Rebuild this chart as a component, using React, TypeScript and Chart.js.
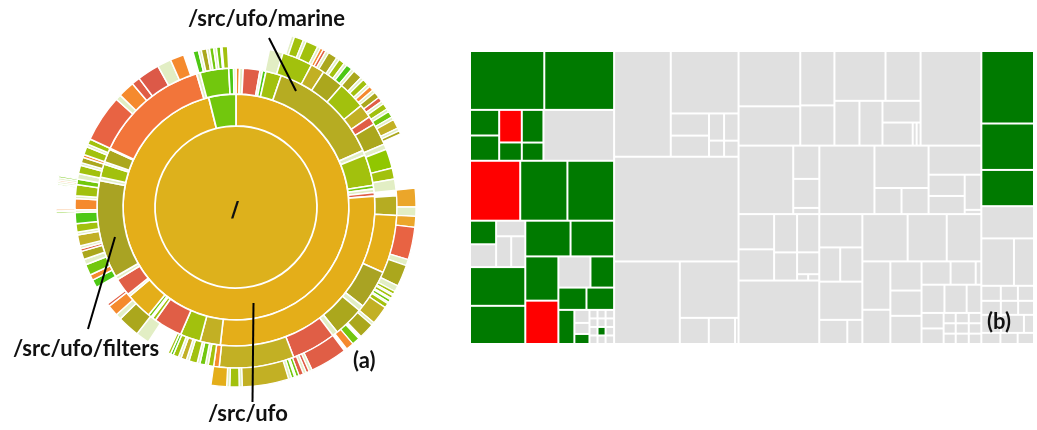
import React, { useEffect, useRef } from "react";
import { Chart, registerables } from "chart.js";

Chart.register(...registerables);

// ---------- Sunburst (a): segments per ring, [degrees, colour key]; null = empty ----------
type Seg = [number, string | null];

const rootRing: Seg[] = [[360, "ROOT"]];

const ring2: Seg[] = [[346, "GOLD"], [14, "GR"]];

const ring3: Seg[] = [
  [1.5, "OO"], [1.5, "LT"], [7, "RD"], [1, "LT"], [1.5, "BG"], [6.5, "YG"],
  [47, "OL"], [2, "LT"], [13, "YG"], [1.5, "GR"], [1.5, "LT"], [1.5, "RD"],
  [101, "GOLD"], [8.5, "OG"], [8.5, "YG"], [12, "RD"], [1.5, "YG"], [0.7, "LT"], [1.3, "GR"],
  [11, "GOLD"], [1, "LT"], [7.5, "RD"], [1.5, "LT"], [41, "FO"], [1.5, "LT"], [5.5, "YG"],
  [1, "LT"], [5.5, "OL2"], [0.5, "LT"], [48.5, "OR"], [1.5, "LT"], [12, "GR"], [2, "BG"], [1, "LT"],
];

const ring4: Seg[] = [
  [12, null], [5, "LT"], [11, "YG"], [5, "OG"], [8, "OL2"], [10, "YG"], [5, "OG"], [3, "RD"],
  [8, "OL2"], [2, "LT"], [7, "GR2"], [4, "YG"], [4, "LT"], [2, null], [7, "OL"], [21, "GOLD"],
  [14, "FO"], [2, "LT"], [11, "OL2"], [2, "LT"], [16, "RD"], [27, "OG"], [2, "OO"],
  [2, "YG"], [1, "LT"], [2, "GR"], [1, "LT"], [3, "YG"], [1, "LT"], [2, "OG"], [1, "LT"], [2, "YG"], [1, "BG"], [1, "YG"],
  [8, null], [5, "LT"], [8, "OL2"], [2, "LT"], [4, "OO"], [1, "RD"], [7, null],
  [3, "BG"], [2, "OO"], [4, "GR"], [2, "LT"], [3, "OL2"], [1, "RD"], [1, "LT"], [4, "OG"], [1, "LT"],
  [3, "YG"], [4, "BG"], [1, "LT"], [4, "OO"], [1, "LT"], [4, "YG"], [2, "GR"], [2, "LT"],
  [3, "YG"], [1, "LT"], [2, "OL2"], [1, "OO"], [3, "YG"], [1, "LT"], [2, "YG"],
  [17, "RO"], [2, "LT"], [6, "OO"], [3, "RD"], [8, "RD2"], [5, "LT"], [5, "OO"], [3.5, null],
  [2, "BG"], [1, "LT"], [2, "OL2"], [1, "LT"], [1.5, "GR"], [1, "LT"], [1.5, "GR"], [0.5, "LT"], [2, "YG"], [3, null],
];

const ring5: Seg[] = [
  [18, null],
  [1, "LT"], [3, "YG"], [1, "LT"], [4, "YG"], [1, "LT"], [1, "OO"], [1, "RD"], [1, "LT"], [3, "OL2"], [1, "LT"],
  [2, "YG"], [1, "LT"], [2, "BG"], [1, "LT"], [3, "OL2"], [1, "LT"], [2, "YG"], [1, "LT"], [1.5, "OO"], [1, "LT"],
  [2, "OL2"], [1.5, "RD"], [1, "LT"], [2, "YG"], [1, "LT"], [2, "GR"], [1, "LT"], [3, "OG"], [1, "LT"], [1, "OL2"],
  [18, null], [6, "AMB"], [3, "LT"], [3.5, "AMB"], [10.5, "RO"], [2, "LT"], [7, "OL2"], [2, "LT"],
  [1, "YG"], [0.5, "LT"], [1, "YG"], [0.5, "LT"], [1, "GR"], [0.5, "LT"], [1.5, "YG"],
  [6, "OG"], [1, "LT"], [5, "OL2"], [1, null], [2.5, "GR"], [2.5, "OO"], [1, null], [12, "RD"],
  [1, "LT"], [1, "RD"], [1, "LT"], [1.5, "RD"], [1, "GR"], [0.5, "LT"], [1, "GR"], [1, "LT"],
  [15, "OG"], [1, "LT"], [3, "YG"], [1, "LT"], [5, "GOLD"],
  [80, null], [0.5, "GR"], [0.5, "LT"], [0.5, "OO"], [7.5, null],
  [0.5, "GR"], [0.7, "LT"], [0.5, "OO"], [0.7, "LT"], [0.6, "GR"], [80, null],
];

const SUN_COLORS: Record<string, string> = {
  ROOT: "#DDB11C", GOLD: "#E4AE19", OL: "#B6AC22", OL2: "#ABA71D", FO: "#A9A323",
  OG: "#C2B024", YG: "#A2C10D", GR: "#72C70D", GR2: "#90C700", BG: "#4DC814",
  OR: "#F2753A", RO: "#E86343", OO: "#F58A2E", RD: "#E05E46", RD2: "#DC5948",
  AMB: "#EBA62A", LT: "#E2EEC4",
};

// ---------- Treemap (b): nested areas, alternating slice/dice; g()=green, r()=red, number=grey ----------
type TNode = number | { v: number; c: string } | TNode[];
const g = (v: number) => ({ v, c: "G" });
const r = (v: number) => ({ v, c: "R" });

const colA: TNode[] = [
  [g(433), g(407)],
  [[g(74), g(73)], [r(73), g(41)], [g(70), g(39)], 356],
  [r(298), g(280), g(277)],
  [
    [[[g(61), 59], [45, [46, 43]]], g(212), g(209)],
    [
      [g(160), g(154)],
      [
        [g(145), r(142)],
        [
          [99, g(73)],
          [g(62), g(61)],
          [g(54), [19.5, 16.5, g(15)], [6.8, 6.8, 6.8, 6.8], [6.8, 6.8, g(6.8), 6.8], [7.2, 7.2, 7.2, 7.2]],
        ],
      ],
    ],
  ],
];

const colB: TNode[] = [
  [593, [419, [[84, 80], [40.5, 24], [39, 23]]]],
  1290,
  [537, [328, [75, 68, 9]]],
];

const colC: TNode[] = [
  [[338, 240], [184, 136], [[252, 173], [111, 102, [82, [69, 9, 9]]]], 569],
  [371, [86, 75, 16], 374, [227, [70, 70]], [152, [[76, 65], [58, 7]]]],
  [
    [[[124, 110], [87, 64], [84, 48, [7, 7]]], 507],
    [142, [71, 75], 163, [67, 36]],
    [
      [212, 183, 162],
      [
        [134, 95],
        [90, 78, 87],
        [[67, 58, 13], [64, 62, 41], [[34, 34], [12.4, 12.4, 12.4], [13.4, 13.4, 13.4], [12.9, 12.9, 12.9]]],
      ],
    ],
  ],
];

const colD: TNode[] = [
  g(378), g(242), g(189), 168,
  [153, 94],
  [29, 25.5, 24],
  [27, 24, 22],
  [35, 41, 18],
  [21, 19, 18],
];

const TM_COLORS: Record<string, string> = { G: "#007A00", R: "#FF0000", E: "#E0E0E0" };

function weightOf(n: TNode): number {
  if (typeof n === "number") return n;
  if (Array.isArray(n)) return n.reduce((s: number, c) => s + weightOf(c), 0);
  return n.v;
}

type Cell = { x0: number; y0: number; x1: number; y1: number; c: string };

function layout(n: TNode, x0: number, y0: number, x1: number, y1: number, depth: number, out: Cell[]) {
  if (!Array.isArray(n)) {
    out.push({ x0, y0, x1, y1, c: typeof n === "number" ? "E" : n.c });
    return;
  }
  const total = weightOf(n);
  let acc = 0;
  for (const ch of n) {
    const w = weightOf(ch);
    const a = acc / total;
    const b = (acc + w) / total;
    acc += w;
    if (depth % 2 === 0) layout(ch, x0 + (x1 - x0) * a, y0, x0 + (x1 - x0) * b, y1, depth + 1, out);
    else layout(ch, x0, y0 + (y1 - y0) * a, x1, y0 + (y1 - y0) * b, depth + 1, out);
  }
}

const treemapPlugin = {
  id: "treemapCells",
  afterDatasetsDraw(chart: any) {
    const { ctx } = chart;
    const xs = chart.scales.x;
    const ys = chart.scales.y;
    const cells: Cell[] = [];
    layout([colA, colB, colC, colD], 0, 0, 1, 1, 0, cells);
    ctx.save();
    for (const c of cells) {
      const px0 = xs.getPixelForValue(c.x0);
      const px1 = xs.getPixelForValue(c.x1);
      const py0 = ys.getPixelForValue(c.y0);
      const py1 = ys.getPixelForValue(c.y1);
      ctx.fillStyle = TM_COLORS[c.c];
      ctx.fillRect(px0 + 1, py0 + 1, Math.max(px1 - px0 - 2, 0.5), Math.max(py1 - py0 - 2, 0.5));
    }
    ctx.restore();
  },
};

function ringDataset(segs: Seg[], weight: number, border: number) {
  return {
    data: segs.map((s) => s[0]),
    backgroundColor: segs.map((s) => (s[1] ? SUN_COLORS[s[1]] : "rgba(0,0,0,0)")),
    borderWidth: segs.map((s) => (s[1] ? border : 0)),
    borderColor: "#FFFFFF",
    weight,
  };
}

const labelStyle: React.CSSProperties = {
  position: "absolute",
  fontFamily: "Lato, 'Open Sans', sans-serif",
  fontWeight: 700,
  fontSize: 22,
  lineHeight: "22px",
  whiteSpace: "nowrap",
  color: "#111",
};

export default function App() {
  const sunRef = useRef<HTMLCanvasElement>(null);
  const tmRef = useRef<HTMLCanvasElement>(null);

  useEffect(() => {
    const sun = new Chart(sunRef.current as HTMLCanvasElement, {
      type: "doughnut",
      data: {
        datasets: [
          ringDataset(ring5, 19, 1.3),
          ringDataset(ring4, 22, 1.5),
          ringDataset(ring3, 26, 1.6),
          ringDataset(ring2, 32, 1.8),
          ringDataset(rootRing, 81, 0),
        ] as any,
      },
      options: {
        responsive: false,
        animation: false,
        events: [],
        radius: 180,
        cutout: 0,
        layout: { padding: 0 },
        plugins: { legend: { display: false }, tooltip: { enabled: false } },
      } as any,
    });

    const tm = new Chart(tmRef.current as HTMLCanvasElement, {
      type: "scatter",
      data: { datasets: [{ data: [] }] },
      options: {
        responsive: false,
        animation: false,
        events: [],
        layout: { padding: 0 },
        scales: {
          x: { type: "linear", min: 0, max: 1, display: false },
          y: { type: "linear", min: 0, max: 1, reverse: true, display: false },
        },
        plugins: { legend: { display: false }, tooltip: { enabled: false } },
      } as any,
      plugins: [treemapPlugin],
    });

    return () => {
      sun.destroy();
      tm.destroy();
    };
  }, []);

  return (
    <div style={{ position: "absolute", left: 0, top: 0, width: 1037, height: 430, background: "#fff", overflow: "hidden" }}>
      <canvas ref={sunRef} width={380} height={380} style={{ position: "absolute", left: 46, top: 17 }} />
      <canvas ref={tmRef} width={564} height={293} style={{ position: "absolute", left: 470, top: 51 }} />
      <svg width={1037} height={430} style={{ position: "absolute", left: 0, top: 0 }}>
        <line x1={269} y1={38} x2={296} y2={91} stroke="#000" strokeWidth={2} />
        <line x1={88} y1={329} x2={115} y2={237} stroke="#000" strokeWidth={2} />
        <line x1={252.5} y1={402} x2={253.5} y2={303} stroke="#000" strokeWidth={2} />
      </svg>
      <div style={{ ...labelStyle, left: 188, top: 7 }}>/src/ufo/marine</div>
      <div style={{ ...labelStyle, left: 13, top: 337 }}>/src/ufo/filters</div>
      <div style={{ ...labelStyle, left: 208, top: 402 }}>/src/ufo</div>
      <div style={{ ...labelStyle, left: 353, top: 349 }}>(a)</div>
      <div style={{ ...labelStyle, left: 987, top: 310 }}>(b)</div>
      <div style={{ ...labelStyle, left: 231, top: 199, fontFamily: "'DejaVu Sans', sans-serif", fontSize: 22, lineHeight: "22px" }}>/</div>
    </div>
  );
}
